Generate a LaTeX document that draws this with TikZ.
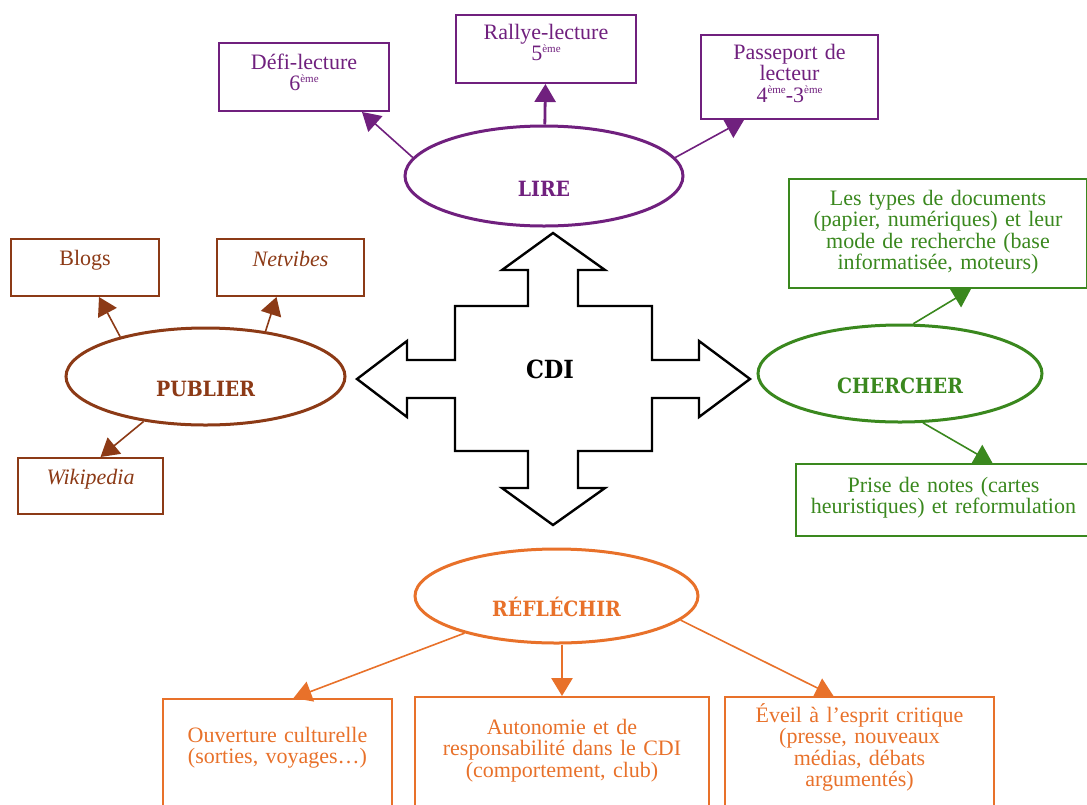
\documentclass[tikz,border=0pt]{standalone}
\usepackage{fontspec}
\setmainfont{Liberation Serif}
\newfontfamily\slabfont{DejaVu Serif Condensed}
\usetikzlibrary{shapes.geometric,arrows.meta}
\definecolor{lirecol}{RGB}{112,32,126}
\definecolor{pubcol}{RGB}{140,58,22}
\definecolor{chercol}{RGB}{58,136,30}
\definecolor{reflcol}{RGB}{232,113,42}
\newcommand{\eme}{\raisebox{0.85ex}{\fontsize{5.5}{5.5}\selectfont ème}}

\begin{document}
\begin{tikzpicture}[x=0.5pt,y=-0.5pt,
  leaf/.style={draw=#1,text=#1,line width=1pt,anchor=north west,align=center,
    inner xsep=0pt,inner ysep=0pt,font=\fontsize{11}{10.8}\selectfont},
  topic/.style={draw=#1,text=#1,ellipse,line width=1.5pt,inner sep=0pt,
    text height=21pt,text depth=1pt,font=\slabfont\bfseries\fontsize{10.5}{11}\selectfont},
  link/.style={draw=#1,line width=0.8pt,-{Triangle[length=9pt,width=10.5pt]}}]
                    \useasboundingbox (0,0) rectangle (1087,804);
                    \clip (0,0) rectangle (1087,804);

                    % Central cross
                    \draw[line width=1.2pt,line join=miter] (553,233) -- (605,270) -- (578,270) -- (578,306)
                        -- (652,306) -- (652,360) -- (699,360) -- (699,341) -- (750,379) -- (699,417)
                        -- (699,398) -- (652,398) -- (652,451) -- (578,451) -- (578,488) -- (605,488)
                        -- (553,525) -- (502,488) -- (528,488) -- (528,451) -- (455,451) -- (455,398)
                        -- (407,398) -- (407,417) -- (357,379) -- (407,341) -- (407,360) -- (455,360)
                        -- (455,306) -- (528,306) -- (528,270) -- (502,270) -- cycle;
                    \node[font=\slabfont\bfseries\fontsize{12.5}{13}\selectfont] (cdi) at (550,369) {CDI};

                    % Lire
                    \node[topic=lirecol,minimum width=139pt,minimum height=50pt] (lire) at (544,176) {LIRE};
                    \node[leaf=lirecol,text width=85pt,text height=13pt,text depth=21pt] (defi) at (218,42) {Défi-lecture\\6\eme};
                    \node[leaf=lirecol,text width=90pt,text height=12pt,text depth=22pt] (rallye) at (455,14) {Rallye-lecture\\5\eme};
                    \node[leaf=lirecol,text width=88.5pt,text height=12pt,text depth=30pt] (passeport) at (700,34) {Passeport de\\lecteur\\4\eme-3\eme};
                    \draw[link=lirecol] (lire.172) -- ([xshift=-14pt]defi.south east);
                    \draw[link=lirecol,line width=1.4pt] (lire) -- (rallye);
                    \draw[link=lirecol] (lire.8) -- ([xshift=22pt]passeport.south west);

                    % Publier
                    \node[topic=pubcol,minimum width=139.5pt,minimum height=48.5pt] (publier) at (205.5,376.5) {PUBLIER};
                    \node[leaf=pubcol,text width=74pt,text height=13pt,text depth=15.5pt] (blogs) at (10,238) {Blogs};
                    \node[leaf=pubcol,text width=73.5pt,text height=13.5pt,text depth=15pt] (netvibes) at (216,238) {\textit{Netvibes}};
                    \node[leaf=pubcol,text width=72.5pt,text height=13pt,text depth=15pt] (wikipedia) at (17,457) {\textit{Wikipedia}};
                    \draw[link=pubcol] (publier.155) -- ([xshift=7pt]blogs.south);
                    \draw[link=pubcol] (publier.37) -- ([xshift=-7pt]netvibes.south);
                    \draw[link=pubcol] (publier.216) -- ([xshift=5pt]wikipedia.north);

                    % Chercher
                    \node[topic=chercol,minimum width=142pt,minimum height=48.5pt] (chercher) at (900,373.5) {CHERCHER};
                    \node[leaf=chercol,text width=149pt,text height=13pt,text depth=41.5pt] (types) at (788,178) {Les types de documents\\(papier, numériques) et leur\\mode de recherche (base\\informatisée, moteurs)};
                    \node[leaf=chercol,text width=147.5pt,text height=14pt,text depth=22pt] (notes) at (795,463) {Prise de notes (cartes\\heuristiques) et reformulation};
                    \draw[link=chercol] (chercher.75) -- ([xshift=16.5pt]types.south);
                    \draw[link=chercol] (chercher.295) -- ([xshift=24.5pt]notes.north);

                    % Reflechir
                    \node[topic=reflcol,minimum width=141.5pt,minimum height=47pt] (reflechir) at (556.5,596) {RÉFLÉCHIR};
                    \node[leaf=reflcol,text width=114.5pt,text height=21.5pt,text depth=39.5pt] (ouverture) at (162,698) {Ouverture culturelle\\(sorties, voyages…)};
                    \node[leaf=reflcol,text width=147pt,text height=18.5pt,text depth=43.5pt] (autonomie) at (414,696) {Autonomie et de\\responsabilité dans le CDI\\(comportement, club)};
                    \node[leaf=reflcol,text width=134.5pt,text height=12.5pt,text depth=49.5pt] (eveil) at (724,696) {Éveil à l’esprit critique\\(presse, nouveaux\\médias, débats\\argumentés)};
                    \draw[link=reflcol] (reflechir.202) -- ([xshift=8pt]ouverture.north);
                    \draw[link=reflcol,line width=1.4pt] (reflechir.south -| autonomie.north) -- (autonomie.north);
                    \draw[link=reflcol] (reflechir.349) -- ([xshift=-13pt]eveil.north);
                \end{tikzpicture}
\end{document}
